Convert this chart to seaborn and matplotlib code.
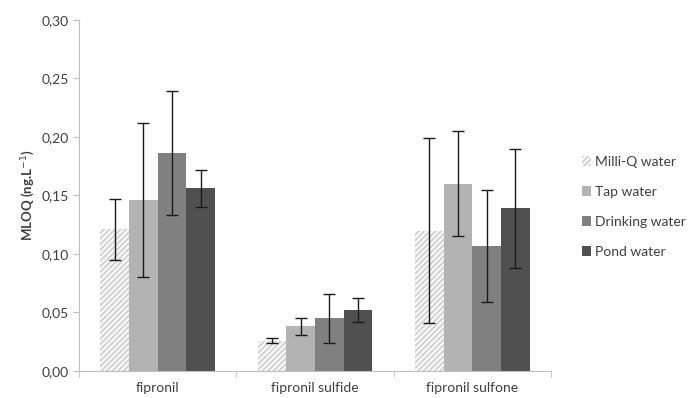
import numpy as np
import pandas as pd
import seaborn as sns
import matplotlib.pyplot as plt
from matplotlib.ticker import FuncFormatter

compounds = ['fipronil', 'fipronil sulfide', 'fipronil sulfone']
waters = ['Milli-Q water', 'Tap water', 'Drinking water', 'Pond water']
milliq = [0.121, 0.026, 0.120]
tap = [0.146, 0.038, 0.160]
drinking = [0.186, 0.045, 0.107]
pond = [0.156, 0.052, 0.139]
milliq_err = [0.026, 0.002, 0.079]
tap_err = [0.066, 0.007, 0.045]
drinking_err = [0.053, 0.021, 0.048]
pond_err = [0.016, 0.010, 0.051]

rows = []
for w, vals, errs in zip(waters, [milliq, tap, drinking, pond],
                         [milliq_err, tap_err, drinking_err, pond_err]):
    for c, v, e in zip(compounds, vals, errs):
        rows.append({'compound': c, 'water': w, 'mloq': v, 'err': e})
df = pd.DataFrame(rows)

sns.set_style('white')
plt.rcParams['font.family'] = ['Lato', 'DejaVu Sans']
plt.rcParams['hatch.linewidth'] = 1.6
plt.rcParams['hatch.color'] = '#d4d4d4'

colors = ['white', '#b3b3b3', '#808080', '#505050']
fig = plt.figure(figsize=(6.94, 3.98), dpi=100)
ax = fig.add_axes([0.114, 0.068, 0.68, 0.882])
sns.barplot(data=df, x='compound', y='mloq', hue='water', order=compounds,
            hue_order=waters, palette=colors, errorbar=None, width=0.73,
            saturation=1, ax=ax, legend=False)

# hatch for Milli-Q bars, error bars from patch centers
bar_groups = list(ax.containers)
for i, cont in enumerate(bar_groups):
    sub = df[df['water'] == waters[i]].set_index('compound').loc[compounds]
    xs = []
    for bar in cont:
        bar.set_linewidth(0)
        if i == 0:
            bar.set_hatch('//////')
            bar.set_edgecolor('#d4d4d4')
        xs.append(bar.get_x() + bar.get_width() / 2)
    ax.errorbar(xs, sub['mloq'], yerr=sub['err'], fmt='none', ecolor='#1a1a1a',
                elinewidth=1, capsize=4, capthick=1)

ax.set_ylim(0, 0.30)
ax.set_yticks(np.arange(0, 0.31, 0.05))
ax.yaxis.set_major_formatter(FuncFormatter(lambda v, p: f'{v:.2f}'.replace('.', ',')))
ax.set_xlim(-0.5, 2.5)
ax.set_xticks([-0.5, 0.5, 1.5, 2.5], minor=True)
ax.tick_params(axis='x', which='major', length=0, labelsize=10, colors='#404040', pad=8)
ax.tick_params(axis='x', which='minor', length=4, color='#bfbfbf', bottom=True)
ax.tick_params(axis='y', length=4, color='#bfbfbf', labelsize=10, labelcolor='#404040', left=True)
ax.set_xlabel('')
ax.set_ylabel('MLOQ (ng.L$^{-1}$)', fontsize=9.5, fontweight='bold', color='#404040', labelpad=3)
for s in ['top', 'right']:
    ax.spines[s].set_visible(False)
for s in ['left', 'bottom']:
    ax.spines[s].set_color('#bfbfbf')

handles = [plt.Rectangle((0, 0), 1, 1, facecolor=c, hatch='//////' if i == 0 else None,
                         edgecolor='#d4d4d4' if i == 0 else c, linewidth=0)
           for i, c in enumerate(colors)]
fig.legend(handles, waters, loc='center left', bbox_to_anchor=(0.82, 0.48),
           frameon=False, fontsize=10, labelspacing=1.3, handlelength=0.7,
           handleheight=0.7, handletextpad=0.3, labelcolor='#404040')

fig.savefig('out.png', dpi=100)
